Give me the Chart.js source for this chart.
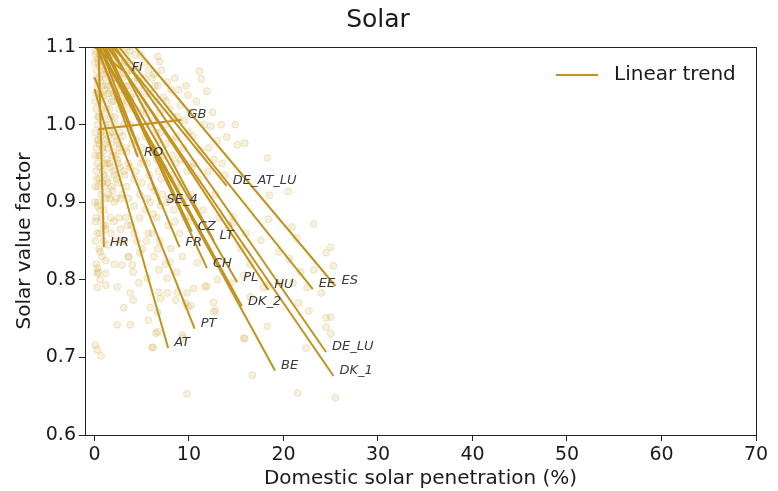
<!DOCTYPE html>
<html>
<head>
<meta charset="utf-8">
<script src="https://cdn.jsdelivr.net/npm/chart.js@4.4.0/dist/chart.umd.min.js"></script>
<style>
 html,body{margin:0;padding:0;background:#fff;}
 #wrap{width:778px;height:491px;}
</style>
</head>
<body>
<div id="wrap"><canvas id="canvasSolar"></canvas></div>
<script>
//Ticks de los ejes
const xTicks = [0, 10, 20, 30, 40, 50, 60, 70];
const yTicks = [0.6, 0.7, 0.8, 0.9, 1.0, 1.1];

//Tendencias lineales por pais (inicio y fin)
const trendCodes  = ['FI', 'GB', 'RO', 'DE_AT_LU', 'SE_4', 'HR', 'CZ', 'FR', 'LT', 'CH', 'PL', 'DK_2', 'HU', 'EE', 'ES', 'PT', 'AT', 'DE_LU', 'BE', 'DK_1'];
const trendStartX = [0.0, 0.4, 0.3, 2.0, 0.6, 0.43, 1.2, 0.2, 1.8, 1.0, 0.8, 0.5, 1.5, 2.6, 4.3, 0.0, 0.0, 2.2, 0.4, 1.4];
const trendStartY = [1.10, 0.994, 1.10, 1.10, 1.10, 1.10, 1.10, 1.10, 1.10, 1.10, 1.10, 1.10, 1.10, 1.10, 1.10, 1.061, 1.046, 1.10, 1.10, 1.10];
const trendEndX   = [3.3, 9.2, 4.6, 14.0, 7.0, 1.0, 10.3, 9.0, 12.6, 11.9, 15.1, 15.6, 18.4, 23.1, 25.5, 10.6, 7.8, 24.5, 19.1, 25.3];
const trendEndY   = [1.067, 1.006, 0.958, 0.921, 0.897, 0.842, 0.862, 0.842, 0.851, 0.815, 0.797, 0.766, 0.787, 0.788, 0.792, 0.737, 0.712, 0.707, 0.683, 0.676];

//Puntos observados (penetracion %, factor de valor)
const observedPoints = [
 [0.1,1.09],[0.2,1.07],[0.3,1.05],[0.1,1.03],[0.4,1.08],[0.5,1.06],[0.2,1.02],[0.6,1.04],[0.3,1.00],[0.7,1.09],
 [0.8,1.07],[0.5,1.01],[0.9,1.05],[1.0,1.08],[0.4,0.98],[1.1,1.03],[1.2,1.06],[0.2,0.97],[1.3,1.09],[0.6,0.96],
 [1.4,1.04],[0.8,0.99],[1.5,1.07],[1.0,1.01],[0.3,0.95],[1.6,1.02],[1.2,0.98],[1.7,1.05],[0.5,0.93],[1.8,1.08],
 [0.9,0.94],[2.0,1.03],[1.4,0.97],[2.1,1.06],[0.1,0.92],[2.2,1.00],[1.6,0.95],[2.3,1.04],[0.7,0.91],[2.5,1.07],
 [1.1,0.92],[2.4,0.98],[0.4,0.90],[1.9,0.96],[0.2,0.88],[1.3,0.93],[0.6,0.89],[2.6,1.02],[0.9,0.87],[1.5,0.91],
 [0.3,0.86],[2.8,1.05],[2.0,0.94],[0.1,0.85],[2.7,0.99],[1.0,0.89],[0.5,0.84],[3.0,1.03],[1.8,0.92],[0.8,0.83],
 [3.2,1.08],[2.2,0.96],[0.2,0.82],[3.1,1.00],[1.2,0.87],[0.4,0.81],[3.4,1.05],[2.5,0.95],[0.6,0.80],[3.5,1.02],
 [1.7,0.88],[0.3,0.79],[3.3,0.97],[2.1,0.90],[3.7,1.07],[0.1,0.99],[0.15,1.04],[0.25,0.93],[0.35,1.01],[0.45,0.96],
 [0.55,1.09],[0.65,0.99],[0.75,1.02],[0.85,0.97],[0.95,1.10],[1.05,0.95],[1.15,1.00],[1.25,1.02],[1.35,0.95],[1.45,1.00],
 [1.55,1.09],[1.65,0.99],[1.75,1.01],[1.85,1.03],[1.95,0.99],[2.05,1.09],[2.15,1.01],[2.35,0.93],[2.45,1.10],[2.65,0.97],
 [3.6,0.95],[3.8,1.00],[4.0,1.04],[4.2,0.93],[4.4,0.98],[4.6,1.06],[4.8,0.91],[5.0,0.97],[5.2,1.02],[5.4,0.89],
 [5.6,0.95],[5.8,1.00],[6.0,0.92],[6.2,0.97],[6.4,1.05],[6.6,0.88],[6.8,0.94],[7.0,0.99],[7.2,0.91],[7.4,0.96],
 [7.6,1.03],[7.8,0.87],[8.0,0.93],[8.2,0.98],[8.4,0.89],[8.6,0.95],[8.8,1.01],[9.0,0.86],[9.2,0.92],[9.4,0.97],
 [9.6,0.88],[9.8,0.94],[10.0,0.99],[3.9,0.87],[4.5,0.85],[5.1,0.84],[5.7,0.86],[6.3,0.83],[6.9,0.85],[7.5,0.82],
 [8.1,0.84],[8.7,0.81],[9.3,0.83],[3.0,0.91],[3.3,0.88],[2.9,0.85],[3.6,0.83],[4.1,0.81],[2.6,0.88],[4.3,1.09],
 [5.3,1.08],[6.1,1.06],[3.5,1.10],[4.7,1.01],[5.5,1.04],[5.9,0.90],[6.5,0.99],[7.1,0.93],[7.7,0.90],[8.3,0.96],
 [8.9,0.90],[4.9,0.95],[3.1,0.94],[3.4,0.92],
 [6.7,1.088],[6.9,1.081],[11.1,1.069],[11.3,1.059],[11.9,1.043],[8.9,1.045],[9.9,1.038],[12.5,1.016],[14.9,1.0],[12.3,0.998],
 [14.0,0.984],[13.0,0.979],[15.9,0.976],[15.1,0.974],[18.3,0.957],[11.2,0.967],[10.5,0.95],[11.0,0.93],[12.0,0.94],[13.5,0.95],
 [12.8,0.91],[10.2,0.91],[11.5,0.89],[13.2,0.88],[14.7,0.881],[14.7,0.874],[14.2,0.87],[18.4,0.878],[18.5,0.909],[20.5,0.914],
 [20.9,0.868],[23.2,0.872],[21.4,0.854],[25.0,0.842],[24.5,0.835],[25.3,0.818],[23.2,0.813],[19.5,0.836],[20.6,0.827],[21.8,0.81],
 [17.6,0.851],[11.9,0.792],[17.9,0.79],[16.0,0.86],[15.5,0.84],[16.5,0.82],[24.0,0.783],[22.7,0.76],[24.5,0.751],[24.5,0.739],
 [22.4,0.712],[18.3,0.74],[15.9,0.724],[16.7,0.677],[12.8,0.761],[12.6,0.771],[10.2,0.767],[9.3,0.729],[9.4,0.725],[6.7,0.758],
 [7.7,0.783],[8.6,0.774],[10.5,0.789],[6.2,0.713],[11.7,0.791],[13.0,0.80],[14.4,0.796],[15.8,0.806],[16.5,0.778],[18.4,0.793],
 [19.7,0.796],[21.0,0.796],[21.6,0.77],[22.5,0.79],[0.6,0.836],[1.2,0.825],[0.3,0.815],[1.2,0.808],[0.3,0.808],[1.2,0.793],
 [2.4,0.791],[2.9,0.819],[2.1,0.82],[3.6,0.829],[4.0,0.819],[4.7,0.796],[3.8,0.783],[4.1,0.774],[3.1,0.764],[2.4,0.742],
 [3.8,0.742],[5.7,0.748],[6.7,0.733],[6.5,0.731],[6.1,0.713],[0.1,0.716],[0.3,0.71],[0.7,0.702],[5.9,0.764],[6.8,0.784],
 [7.0,0.776],[5.6,0.802],[6.8,0.813],[7.7,0.802],[8.0,0.823],[8.8,0.784],[9.8,0.783],[9.6,0.77],[9.9,0.765],[10.9,0.822],
 [12.6,0.759],[9.8,0.653],[21.5,0.654],[25.5,0.648],[25.0,0.731],[25.0,0.752],[15.8,0.725],
 [0.05,1.08],[0.15,1.095],[0.25,1.06],[0.35,1.085],[0.45,1.04],[0.55,1.075],[0.65,1.055],[0.75,1.035],[0.85,1.09],[0.95,1.065],
 [1.05,1.045],[1.15,1.085],[1.25,1.07],[1.35,1.05],[1.45,1.08],[1.55,1.04],[1.65,1.065],[1.75,1.095],[1.85,1.055],[1.95,1.075],
 [2.05,1.04],[2.15,1.085],[2.25,1.06],[2.35,1.09],[2.45,1.035],[2.55,1.065],[2.65,1.08],[2.75,1.045],[2.85,1.095],[2.95,1.06],
 [3.05,1.075],[3.15,1.04],[3.25,1.09],[3.35,1.065],[3.45,1.03],[3.55,1.08],[3.65,1.05],[3.75,1.095],[3.85,1.035],[3.95,1.07],
 [4.1,1.055],[4.3,1.02],[4.5,1.075],[4.7,1.045],[4.9,1.09],[5.1,1.03],[5.3,1.06],[5.5,1.015],[5.7,1.07],[5.9,1.04],
 [6.1,1.005],[6.3,1.065],[6.5,1.03],[6.7,1.05],[6.9,1.015],[7.1,1.07],[7.3,1.035],[7.5,1.0],[7.7,1.055],[7.9,1.02],
 [8.1,1.045],[8.3,1.01],[8.5,1.06],[8.7,0.985],[9.1,1.025],[9.5,1.005],[9.7,1.05],[10.1,1.015],[10.4,0.985],[10.8,1.03],
 [11.6,1.0],[12.1,0.97],[13.4,1.0],[12.7,0.955],[13.8,0.935],
 [0.1,0.96],[0.2,0.94],[0.3,0.98],[0.4,0.92],[0.5,0.975],[0.6,0.945],[0.7,0.985],[0.8,0.925],[0.9,0.965],[1.0,0.935],
 [1.1,0.975],[1.2,0.905],[1.3,0.955],[1.4,0.925],[1.5,0.985],[1.6,0.905],[1.7,0.945],[1.8,0.975],[1.9,0.915],[2.0,0.965],
 [2.1,0.935],[2.2,0.985],[2.3,0.905],[2.4,0.955],[2.5,0.925],[2.6,0.975],[2.7,0.945],[2.8,0.905],[2.9,0.965],[3.0,0.985],
 [3.2,0.935],[3.4,0.965],[3.6,0.905],[3.8,0.945],[4.0,0.975],[4.2,0.895],[4.4,0.94],[4.6,0.965],[4.8,0.88],[5.0,0.925],
 [5.2,0.955],[5.4,0.985],[5.6,0.905],[5.8,0.935],[6.0,0.965],[6.2,0.885],[6.4,0.915],[6.6,0.955],[6.8,0.98],[7.0,0.895],
 [7.3,0.945],[7.6,0.975],[7.9,0.905],[8.2,0.935],[8.5,0.875],[8.8,0.925],[9.1,0.955],[9.5,0.905],[9.9,0.875],[10.3,0.945],
 [0.05,0.9],[0.15,0.875],[0.35,0.895],[0.55,0.86],[0.75,0.88],[0.95,0.85],[1.15,0.865],[1.45,0.845],[1.75,0.86],[2.05,0.875],
 [2.35,0.85],[2.75,0.865],[3.15,0.85],[3.5,0.87],[4.2,0.86],[4.8,0.835],[5.5,0.85],[6.1,0.86],[6.7,0.84]
];

const colorTrend = 'rgb(193,146,30)';
const fuente = 'DejaVu Sans';

//Armo los datasets
let datasets = [];
datasets.push({
 type: 'scatter',
 label: 'observed',
 data: observedPoints.map(p => ({x: p[0], y: p[1]})),
 backgroundColor: 'rgba(205,160,50,0.16)',
 borderColor: 'rgba(205,160,50,0.22)',
 borderWidth: 1,
 pointRadius: 3.5,
 order: 1
});
for (let i = 0; i < trendCodes.length; i++) {
 datasets.push({
  type: 'line',
  label: trendCodes[i],
  data: [{x: trendStartX[i], y: trendStartY[i]}, {x: trendEndX[i], y: trendEndY[i]}],
  borderColor: colorTrend,
  borderWidth: 2,
  pointRadius: 0,
  fill: false,
  order: 0
 });
}

//Plugin: etiquetas de paises, caja y leyenda
const extras = {
 id: 'extras',
 afterDatasetsDraw(chart) {
  const ctx = chart.ctx;
  const xs = chart.scales.x, ys = chart.scales.y;
  const a = chart.chartArea;
  ctx.save();
  ctx.font = 'italic 13px "' + fuente + '"';
  ctx.fillStyle = '#3a3a3a';
  ctx.textBaseline = 'middle';
  ctx.textAlign = 'left';
  for (let i = 0; i < trendCodes.length; i++) {
   const px = xs.getPixelForValue(trendEndX[i]);
   const py = ys.getPixelForValue(trendEndY[i]);
   ctx.fillText(trendCodes[i], px + 6, py - 5);
  }
  //caja
  ctx.strokeStyle = '#222';
  ctx.lineWidth = 1;
  ctx.strokeRect(Math.round(a.left) + 0.5, Math.round(a.top) + 0.5, Math.round(a.right - a.left), Math.round(a.bottom - a.top));
  //leyenda
  ctx.strokeStyle = colorTrend;
  ctx.lineWidth = 2;
  ctx.beginPath();
  ctx.moveTo(a.right - 200, a.top + 28);
  ctx.lineTo(a.right - 158, a.top + 28);
  ctx.stroke();
  ctx.font = '20px "' + fuente + '"';
  ctx.fillStyle = '#1a1a1a';
  ctx.fillText('Linear trend', a.right - 142, a.top + 28);
  ctx.restore();
 }
};

var canvas = document.getElementById('canvasSolar');
let grafico = new Chart(canvas, {
 data: { datasets: datasets },
 options: {
  responsive: true,
  maintainAspectRatio: false,
  animation: false,
  layout: { padding: { left: 0, right: 22, top: 0, bottom: 0 } },
  plugins: {
   legend: { display: false },
   tooltip: { enabled: false },
   title: {
    display: true,
    text: 'Solar',
    color: '#1a1a1a',
    font: { family: fuente, size: 25, weight: 'normal' },
    padding: { top: 5, bottom: 12 }
   }
  },
  scales: {
   x: {
    type: 'linear',
    min: -1,
    max: 70,
    afterBuildTicks: s => { s.ticks = xTicks.map(v => ({value: v})); },
    afterFit: s => { s.height = 56; },
    grid: { drawOnChartArea: false, tickLength: 6, color: '#222' },
    border: { color: '#222' },
    ticks: { color: '#1a1a1a', font: { family: fuente, size: 19 }, padding: 3, maxRotation: 0 },
    title: { display: true, text: 'Domestic solar penetration (%)', color: '#1a1a1a', font: { family: fuente, size: 20 }, padding: { top: 0, bottom: 0 } }
   },
   y: {
    type: 'linear',
    min: 0.6,
    max: 1.1,
    afterBuildTicks: s => { s.ticks = yTicks.map(v => ({value: v})); },
    afterFit: s => { s.width = 85; },
    grid: { drawOnChartArea: false, tickLength: 6, color: '#222' },
    border: { color: '#222' },
    ticks: { color: '#1a1a1a', font: { family: fuente, size: 19 }, padding: 3, callback: v => v.toFixed(1) },
    title: { display: true, text: 'Solar value factor', color: '#1a1a1a', font: { family: fuente, size: 20 }, padding: { top: 13, bottom: 0 } }
   }
  }
 },
 plugins: [extras]
});
</script>
</body>
</html>
